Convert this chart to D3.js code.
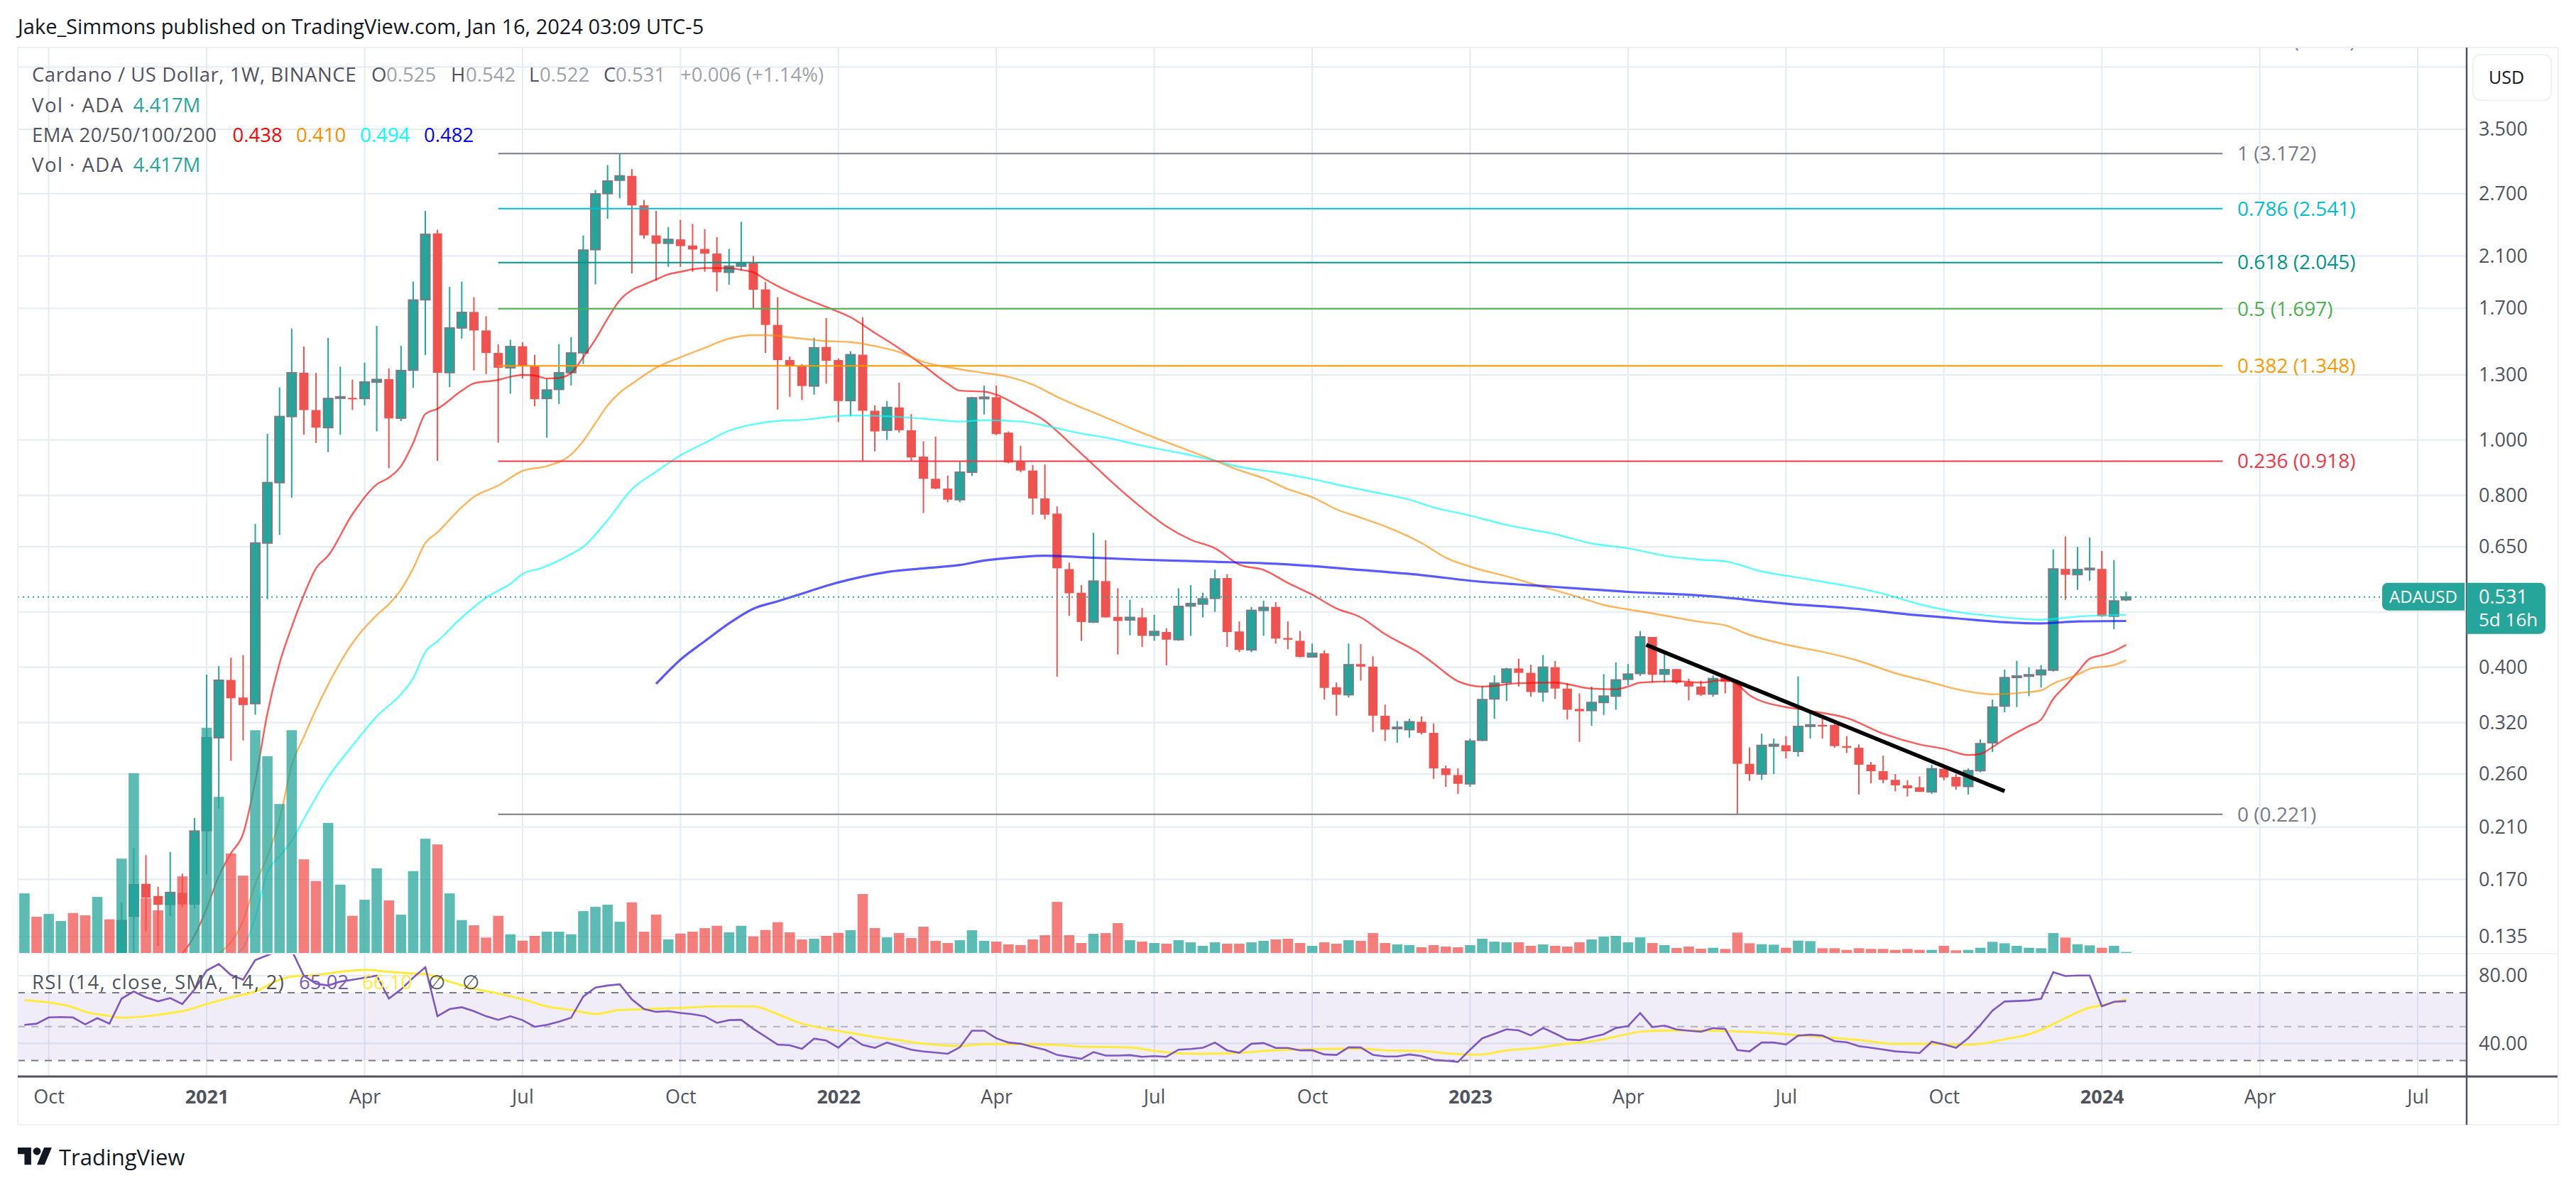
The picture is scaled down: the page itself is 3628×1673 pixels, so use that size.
<!DOCTYPE html>
<html><head><meta charset="utf-8">
<script src="https://cdn.jsdelivr.net/npm/d3@7/dist/d3.min.js"></script>
<style>html,body{margin:0;padding:0;background:#fff}svg{display:block}text{font-family:"Open Sans",Lato,sans-serif}</style>
</head><body><div id="chart"></div>
<script>
const opens=[.098,.104,.101,.106,.108,.104,.1,.108,.105,.1466,.167,.159,.1537,.161,.154,.207,.301,.38,.354,.3454,.66,.842,1.099,1.311,1.128,1.051,1.188,1.185,1.182,1.263,1.278,1.092,1.325,1.76,2.3,1.312,1.571,1.675,1.555,1.42,1.338,1.459,1.349,1.182,1.226,1.312,1.421,2.154,2.7,2.85,2.9,2.575,2.281,2.21,2.245,2.19,2.16,2.12,1.966,2.015,2.04,1.835,1.59,1.38,1.349,1.243,1.455,1.38,1.172,1.41,1.125,1.04,1.14,1.04,.935,.855,.822,.786,.878,1.185,1.188,1.03,.916,.884,.79,.743,.594,.54,.48,.566,.49,.484,.489,.455,.461,.447,.512,.516,.528,.573,.462,.429,.503,.51,.45,.445,.417,.423,.369,.358,.405,.401,.329,.313,.311,.321,.307,.266,.259,.25,.298,.352,.376,.398,.391,.362,.4,.367,.338,.336,.347,.356,.381,.39,.452,.389,.397,.376,.37,.359,.385,.377,.271,.26,.291,.292,.285,.316,.317,.317,.291,.289,.27,.263,.254,.2485,.2465,.242,.2656,.257,.2473,.2636,.295,.342,.384,.386,.388,.3953,.5945,.581,.594,.5945,.4915,.525];
const closes=[.104,.101,.106,.108,.104,.1,.108,.105,.144,.1664,.158,.1535,.1613,.1537,.2066,.301,.3795,.353,.3434,.66,.842,1.099,1.311,1.128,1.051,1.182,1.19,1.178,1.263,1.276,1.091,1.323,1.758,2.291,1.311,1.571,1.672,1.555,1.42,1.338,1.457,1.349,1.179,1.223,1.311,1.42,2.15,2.697,2.84,2.9,2.575,2.281,2.206,2.245,2.185,2.155,2.12,1.966,2.015,2.04,1.832,1.59,1.38,1.349,1.243,1.45,1.376,1.17,1.41,1.125,1.035,1.14,1.04,.932,.855,.822,.786,.878,1.185,1.188,1.024,.913,.884,.79,.74,.596,.539,.48,.566,.489,.482,.489,.454,.462,.447,.511,.517,.527,.571,.461,.429,.503,.509,.449,.447,.417,.423,.368,.358,.404,.401,.329,.311,.314,.321,.307,.266,.259,.25,.297,.351,.375,.397,.391,.362,.4,.367,.337,.335,.347,.356,.38,.389,.452,.388,.396,.376,.37,.358,.382,.377,.271,.26,.2918,.293,.285,.315,.317,.315,.291,.289,.27,.263,.254,.2485,.2455,.242,.2656,.2565,.2473,.2636,.2939,.3406,.3835,.386,.388,.3953,.5945,.5806,.593,.596,.4915,.5225,.531];
const highs=[.106,.108,.108,.112,.112,.108,.11,.112,.155,.193,.1875,.165,.19,.174,.2178,.3884,.4017,.4157,.42,.713,1.025,1.236,1.567,1.458,1.31,1.509,1.344,1.275,1.365,1.584,1.334,1.462,1.894,2.518,2.334,1.853,1.894,1.778,1.647,1.47,1.498,1.483,1.409,1.281,1.472,1.514,2.281,2.74,3.03,3.17,2.98,2.63,2.518,2.36,2.43,2.39,2.34,2.265,2.16,2.41,2.1,1.89,1.778,1.4,1.358,1.51,1.635,1.39,1.43,1.64,1.15,1.17,1.26,1.11,.995,1.013,.866,.918,1.19,1.245,1.245,1.035,.977,.904,.906,.765,.61,.557,.688,.667,.55,.525,.508,.494,.468,.55,.557,.54,.593,.582,.481,.51,.523,.52,.481,.463,.44,.428,.376,.44,.439,.418,.344,.322,.325,.328,.319,.269,.266,.3,.371,.387,.399,.414,.404,.42,.41,.375,.36,.37,.389,.408,.405,.463,.452,.422,.397,.382,.379,.387,.388,.38,.2895,.306,.3,.303,.3855,.334,.327,.32,.303,.293,.273,.28,.26,.2535,.2575,.27,.27,.26,.266,.299,.351,.3963,.4105,.4,.4035,.6435,.6777,.6495,.675,.6395,.616,.542];
const lows=[.095,.098,.098,.102,.102,.098,.098,.102,.1,.12,.138,.13,.1466,.152,.1513,.1735,.2262,.2743,.2977,.3304,.5264,.682,.792,1.021,.988,.952,1.021,1.128,1.15,1.035,.892,1.079,1.234,1.409,.919,1.238,1.505,1.324,1.304,.989,1.205,1.281,1.146,1.009,1.156,1.246,1.358,1.872,2.44,2.65,1.957,2.25,1.9,2.01,2.01,1.97,1.97,1.82,1.87,1.98,1.7,1.42,1.13,1.19,1.175,1.2,1.255,1.075,1.1,.918,.955,1,1.03,.918,.745,.82,.778,.778,.865,1.108,1.02,.91,.878,.74,.726,.385,.492,.445,.478,.489,.421,.455,.434,.445,.403,.445,.454,.489,.5,.434,.425,.425,.454,.44,.43,.416,.416,.351,.329,.354,.379,.308,.297,.295,.301,.305,.255,.247,.24,.247,.297,.325,.349,.37,.355,.348,.352,.324,.296,.316,.33,.337,.372,.386,.376,.376,.374,.35,.356,.355,.36,.221,.253,.254,.26,.277,.279,.3,.3,.289,.283,.2395,.2505,.2505,.2425,.2375,.242,.24,.2535,.244,.2395,.262,.2842,.3335,.3406,.356,.3685,.393,.525,.5465,.567,.49,.4664,.522];
const volumes=[252,153,165,135,169,159,237,142,399,760,232,180,220,324,474,952,660,421,327,942,832,630,942,396,304,550,289,157,225,358,222,162,346,483,459,252,139,117,65,157,79,52,72,90,90,79,177,195,204,132,214,90,162,57,82,90,105,115,87,115,70,97,130,87,57,60,72,85,96,249,105,66,84,63,111,51,42,54,96,51,48,36,33,57,75,216,75,42,81,84,126,54,48,42,39,54,45,30,45,39,39,45,51,57,60,42,30,45,39,54,51,84,42,36,33,24,33,27,24,33,60,48,45,45,30,36,30,27,45,57,69,72,45,66,42,33,21,27,18,22,17,86,41,37,35,22,52,50,20,20,13,20,17,17,13,17,13,13,30,11,13,22,47,41,30,22,20,84,65,37,32,22,30,4.4];

const ema20Idx=[13,14,15,16,17,18,19,20,21,22,23,24,25,27,29,30,31,32,33,34,36,37,39,40,41,42,43,44,45,46,47,48,49,50,51,52,53,54,55,56,58,59,60,61,62,64,66,68,70,72,74,76,77,79,80,82,84,86,88,90,92,94,96,98,100,102,104,106,108,110,112,115,116,118,119,120,123,126,129,131,132,133,136,138,140,141,142,145,146,148,150,153,156,158,160,161,162,163,165,166,167,168,169,170,171,172,173];
const ema20Val=[.126,.1355,.1513,.1723,.1889,.2044,.2522,.332,.4066,.4706,.535,.596,.627,.7416,.836,.859,.9,.988,1.11,1.134,1.22,1.256,1.274,1.29,1.3,1.297,1.281,1.284,1.31,1.396,1.5,1.63,1.756,1.83,1.87,1.91,1.95,1.97,1.99,2,2,1.985,1.966,1.91,1.86,1.778,1.71,1.64,1.54,1.447,1.35,1.255,1.22,1.215,1.2,1.142,1.08,.99,.904,.826,.76,.706,.669,.646,.605,.592,.562,.536,.507,.489,.457,.421,.406,.378,.372,.37,.375,.376,.367,.366,.37,.376,.378,.376,.38,.3732,.3574,.3406,.338,.3327,.326,.306,.293,.2878,.2807,.282,.29,.2992,.3156,.324,.352,.371,.392,.414,.42,.4269,.438];
const ema50Idx=[16,18,19,20,21,22,23,25,27,29,30,31,32,33,34,36,37,39,41,43,45,46,47,48,49,50,52,54,56,58,60,61,63,66,68,70,72,74,77,79,81,83,85,87,89,91,93,96,98,100,102,104,106,108,110,112,115,117,119,122,125,128,130,132,134,138,140,142,145,148,151,154,157,159,161,162,165,166,167,169,170,172,173];
const ema50Val=[.126,.144,.1667,.1866,.2163,.2689,.3023,.3729,.4407,.4936,.5157,.547,.596,.66,.689,.763,.795,.832,.883,.9,.943,.996,1.07,1.149,1.21,1.254,1.338,1.396,1.45,1.505,1.526,1.526,1.513,1.49,1.484,1.46,1.425,1.37,1.33,1.31,1.29,1.25,1.19,1.14,1.095,1.05,1.01,.955,.92,.885,.857,.82,.794,.756,.731,.706,.66,.622,.6,.577,.553,.53,.514,.505,.497,.48,.4735,.4558,.4382,.4256,.4103,.3905,.376,.3662,.36,.3587,.3618,.3643,.3744,.3881,.3975,.4036,.4114];
const ema100Idx=[17.4,18,19,20,21,22,23,25,27,29,31,32,33,34,36,38,40,41,42.5,45,46,48,50,52,54,56,58,60,62,64,66,68,71,74,77,79,82,84,87,89,92,95,98,100,103,106,109,111,114,116,119,122,126,129,132,135,138,140,143,146,150,153,156,159,162,166,167,169,171,173];
const ema100Val=[.126,.129,.146,.175,.1866,.1986,.217,.2565,.2916,.328,.3589,.3828,.4255,.4442,.4889,.5295,.56,.5827,.596,.631,.65,.724,.82,.88,.94,.988,1.038,1.065,1.08,1.084,1.096,1.104,1.1,1.09,1.077,1.083,1.077,1.06,1.026,1.01,.977,.95,.92,.897,.878,.854,.827,.811,.786,.762,.737,.71,.684,.659,.646,.627,.617,.613,.5885,.5742,.5552,.538,.5155,.5,.4915,.4843,.486,.4905,.493,.494];
const ema200Idx=[52,54,56,58,60,62,64,66,68,71,74,77,79,82,84,88,92,98,103,110,115,119,126,132,138,145,151,155,159,162,166,169,173];
const ema200Val=[.3741,.4124,.4442,.4773,.5064,.5219,.538,.5554,.57,.587,.596,.604,.615,.624,.627,.622,.617,.612,.607,.592,.58,.567,.553,.542,.534,.5169,.5058,.4952,.4872,.4811,.4773,.4811,.482];

const rsiValues=[51,51.7,55.4,55.6,55.4,51.3,55,51.7,66.5,70.7,67.2,64.9,66.8,63.3,71.9,83,86.9,80.4,77.6,89.2,92,95,95,80,75.3,74.2,76.5,77.6,78.8,80,66.5,71.9,78.8,85,56.1,60.3,61.4,59.1,56.1,54,56.1,53.8,49.9,51,52.9,55.2,67.7,73,74.2,74.9,66.1,60.3,58.7,59.1,58,57.3,56.1,52.2,53.8,54,48.7,44.1,39.4,39,36.9,42.9,41.8,37.6,43.8,39.2,37.5,40.6,38.5,36.4,35.3,34.7,34,37.8,47.6,47.6,43.1,40.6,39.9,38.1,36.4,33.3,32.2,31,35,32.9,32.9,33.2,32.2,32.6,32.2,36.4,36.8,37.5,40.6,36,34.6,39.9,40.3,37.4,37.4,36,36.1,33.6,33.3,37.8,37.7,33.3,32.4,32.4,33.6,32.6,30.4,29.9,29.2,36.4,43.1,45.7,48.4,47.8,44.8,49.2,45.9,42.4,42,43.8,45.5,49.2,50.3,58,49.7,50.6,48.3,47.6,47,49.1,48.6,36.2,35.4,40.6,40.6,39.5,44.7,45.2,44.7,41.4,40.8,38.5,37.5,36.5,35.4,34.9,34.4,41.1,39.5,37.5,43.2,50.9,59.4,64.8,65.1,65.4,66.4,82.1,79.8,80.1,80.1,62,64.6,65];
const rsiSmaIdx=[0,2,4,5,7,8,10,12,13,15,17,19,21,22,24,26,28,30,32,33,35,37,39,41,43,45,47,49,51,54,57,60,62,64,66,68,70,72,74,76,77,79,82,85,87,91,93,95,97,100,103,106,110,112,115,117,119,120,122,124,127,129,131,133,135,138,142,145,148,151,154,157,160,161,163,165,166,168,170,171,173];
const rsiSmaVal=[65.6,64.2,61.4,58.7,56.3,55.2,56.1,58,59.1,63.3,67.2,70.7,77.6,79.5,80.4,82.3,83.4,82.3,81.3,80.9,76.5,72.3,69.5,66.1,61.9,59.8,57.5,59.8,60.3,61,61.9,61.9,57.3,51.7,48.7,46.3,43.8,42,39.9,38.8,38.6,39.6,39.6,39.2,38.2,37.7,35.7,34.3,34,34.6,36.1,36.7,37,36,35.7,34.3,33.5,33.6,36,37.1,39.9,41.3,44.1,47,47.7,47.7,46.8,45.5,43.9,42.1,39.8,39.8,39.3,39.8,42.6,45.5,48.1,55,61.2,62.5,66.1];

const trendIdx=[133.5,163], trendVal=[.4377,.2427];
const fibLevels=[1.618,1,.786,.618,.5,.382,.236,0];
const fibPrices=[4.996,3.172,2.541,2.045,1.697,1.348,.918,.221];
const fibColors=["#5b6cff","#787b86","#00bcd4","#009688","#4caf50","#ff9800","#f23645","#787b86"];
const fibStartIdx=39, fibEndIdx=181;
const priceGrid=[4.5,3.5,2.7,2.1,1.7,1.3,1,.8,.65,.5,.4,.32,.26,.21,.17,.135];
const priceLabels=[3.5,2.7,2.1,1.7,1.3,1,.8,.65,.4,.32,.26,.21,.17,.135];
const rsiTicks=[80,40];
const tickIdx=[2,15,28,41,54,67,80,93,106,119,132,145,158,171,184,197];
const tickLabels=["Oct","2021","Apr","Jul","Oct","2022","Apr","Jul","Oct","2023","Apr","Jul","Oct","2024","Apr","Jul"];
const lastClose=.531;

const W=3628,H=1673,L=25,R=3603,T=67,B=1584,AX=3474,PB=1343,TB=1516;
const UP="#26a69a",DN="#ef5350",GRID="#e4ecf3",TXT="#50535e";
const x=d3.scaleLinear().domain([0,173]).range([34.4,2994.4]);
const y=d3.scaleLog().domain([3.5,.135]).range([182,1319]);
const yVol=d3.scaleLinear().domain([0,1000]).range([1342,1009]);
const yRsi=d3.scaleLinear().domain([80,40]).range([1374,1469.6]);
const svg=d3.select("#chart").append("svg").attr("width",W).attr("height",H);
const defs=svg.append("defs");
defs.append("clipPath").attr("id","pp").append("rect").attr("x",L).attr("y",T).attr("width",AX-L).attr("height",PB-T);
defs.append("clipPath").attr("id","rp").append("rect").attr("x",L).attr("y",PB).attr("width",AX-L).attr("height",TB-PB);
svg.append("rect").attr("width",W).attr("height",H).attr("fill","#fff");

svg.append("text").attr("x",25).attr("y",48).attr("font-size",29).attr("fill","#131722").text("Jake_Simmons published on TradingView.com, Jan 16, 2024 03:09 UTC-5");

const g=svg.append("g");
g.selectAll(".hg").data(priceGrid).join("line").attr("x1",L).attr("x2",AX).attr("y1",d=>y(d)).attr("y2",d=>y(d)).attr("stroke",GRID).attr("stroke-width",2);
g.selectAll(".rg").data(rsiTicks).join("line").attr("x1",L).attr("x2",AX).attr("y1",d=>yRsi(d)).attr("y2",d=>yRsi(d)).attr("stroke",GRID).attr("stroke-width",2);
g.selectAll(".vg").data(tickIdx).join("line").attr("x1",d=>x(d)).attr("x2",d=>x(d)).attr("y1",T).attr("y2",TB).attr("stroke",GRID).attr("stroke-width",2);

const rsiPane=svg.append("g").attr("clip-path","url(#rp)");
rsiPane.append("rect").attr("x",L).attr("width",AX-L).attr("y",yRsi(70)).attr("height",yRsi(30)-yRsi(70)).attr("fill","#7e57c2").attr("fill-opacity",.115);
rsiPane.selectAll(".b").data([70,50,30]).join("line").attr("x1",L).attr("x2",AX).attr("y1",d=>yRsi(d)).attr("y2",d=>yRsi(d)).attr("stroke","#787b86").attr("stroke-opacity",d=>d==50?.5:1).attr("stroke-width",2).attr("stroke-dasharray","10 9");
rsiPane.append("path").datum(rsiSmaIdx).attr("fill","none").attr("stroke","#ffeb3b").attr("stroke-width",3).attr("d",d3.line().curve(d3.curveMonotoneX).x(d=>x(d)).y((d,i)=>yRsi(rsiSmaVal[i])));
rsiPane.append("path").datum(rsiValues).attr("fill","none").attr("stroke","#7e57c2").attr("stroke-width",2.6).attr("d",d3.line().x((d,i)=>x(i)).y(d=>yRsi(d)));

const pane=svg.append("g").attr("clip-path","url(#pp)");
const up=i=>closes[i]>=opens[i];
const idx=d3.range(opens.length);
pane.selectAll(".w").data(idx).join("line").attr("x1",x).attr("x2",x).attr("y1",i=>y(highs[i])).attr("y2",i=>y(lows[i])).attr("stroke",i=>up(i)?UP:DN).attr("stroke-width",2);
pane.selectAll(".c").data(idx).join("rect").attr("x",i=>x(i)-6.5).attr("width",13)
 .attr("y",i=>Math.min(y(opens[i]),y(closes[i]))).attr("height",i=>Math.max(2,Math.abs(y(opens[i])-y(closes[i]))))
 .attr("fill",i=>up(i)?UP:DN).attr("stroke",i=>up(i)?"#787b86":"none").attr("stroke-width",2);

svg.append("line").attr("x1",L).attr("x2",AX).attr("y1",y(lastClose)).attr("y2",y(lastClose)).attr("stroke",UP).attr("stroke-width",2).attr("stroke-dasharray","2 5");

const ln=(ix,vals)=>d3.line().curve(d3.curveMonotoneX).x(d=>x(d)).y((d,i)=>y(vals[i]))(ix);
[[ema20Idx,ema20Val,"#ff0000",2.4],[ema50Idx,ema50Val,"#ff8c00",2.4],[ema100Idx,ema100Val,"#00ffff",2.4],[ema200Idx,ema200Val,"#0000ff",3.2]].forEach(s=>{
 pane.append("path").attr("d",ln(s[0],s[1])).attr("fill","none").attr("stroke",s[2]).attr("stroke-opacity",.65).attr("stroke-width",s[3]);
});

pane.selectAll(".f").data(fibPrices).join("line").attr("x1",x(fibStartIdx)).attr("x2",x(fibEndIdx)-1).attr("y1",d=>y(d)).attr("y2",d=>y(d)).attr("stroke",(d,i)=>fibColors[i]).attr("stroke-width",2);
pane.selectAll(".ft").data(fibPrices).join("text").attr("x",3151).attr("y",d=>y(d)).attr("dy",".35em").attr("font-size",28).attr("fill",(d,i)=>fibColors[i]).text((d,i)=>`${fibLevels[i]} (${d.toFixed(3)})`);

pane.append("path").attr("d",d3.line().x(d=>x(d)).y((d,i)=>y(trendVal[i]))(trendIdx)).attr("fill","none").attr("stroke","#000").attr("stroke-width",5.5);

pane.selectAll(".v").data(idx).join("rect").attr("x",i=>x(i)-7.3).attr("width",14.6).attr("y",i=>yVol(volumes[i])).attr("height",i=>yVol(0)-yVol(volumes[i])).attr("fill",i=>up(i)?UP:DN).attr("fill-opacity",.75);

const F="#eef1f5";
svg.append("rect").attr("x",L).attr("y",T).attr("width",R-L).attr("height",B-T).attr("fill","none").attr("stroke",F).attr("stroke-width",2);
svg.append("line").attr("x1",L).attr("x2",R).attr("y1",PB).attr("y2",PB).attr("stroke",F).attr("stroke-width",2);
svg.append("line").attr("x1",L).attr("x2",R-1).attr("y1",TB).attr("y2",TB).attr("stroke",TXT).attr("stroke-width",3);
svg.append("line").attr("x1",AX).attr("x2",AX).attr("y1",T).attr("y2",B).attr("stroke",TXT).attr("stroke-width",2.5);

const pa=svg.append("g").attr("transform",`translate(${AX+17},0)`).call(d3.axisRight(y).tickValues(priceLabels).tickSize(0).tickPadding(0).tickFormat(d3.format(".3f")));
const ra=svg.append("g").attr("transform",`translate(${AX+17},0)`).call(d3.axisRight(yRsi).tickValues(rsiTicks).tickSize(0).tickPadding(0).tickFormat(d3.format(".2f")));
const ta=svg.append("g").attr("transform",`translate(0,1535)`).call(d3.axisBottom(x).tickValues(tickIdx).tickSize(0).tickPadding(0).tickFormat((d,i)=>tickLabels[i]));
[pa,ra,ta].forEach(a=>{a.select(".domain").remove();a.selectAll("text").attr("font-size",27).attr("fill",TXT).style("font-family",'"Open Sans"');});
ta.selectAll("text").attr("font-weight",(d,i)=>/^\d/.test(tickLabels[i])?700:400);

svg.append("rect").attr("x",3483).attr("y",77).attr("width",110).attr("height",64).attr("rx",10).attr("fill","#fff").attr("stroke",F).attr("stroke-width",2);
svg.append("text").attr("x",3530).attr("y",109).attr("dy",".35em").attr("text-anchor","middle").attr("font-size",25).attr("fill","#131722").text("USD");

const tagTop=y(lastClose)-20;
svg.append("path").attr("d",`M3471 ${tagTop}H3363a8 8 0 0 0 -8 8V${tagTop+31}a8 8 0 0 0 8 8H3471Z`).attr("fill",UP);
svg.append("path").attr("d",`M3474 ${tagTop}H3577a8 8 0 0 1 8 8V${tagTop+64}a8 8 0 0 1 -8 8H3474Z`).attr("fill",UP);
svg.append("text").attr("x",3413).attr("y",y(lastClose)).attr("dy",".35em").attr("text-anchor","middle").attr("font-size",24).attr("fill","#fff").text("ADAUSD");
svg.append("text").attr("x",3491).attr("y",y(lastClose)).attr("dy",".35em").attr("font-size",27).attr("fill","#fff").text("0.531");
svg.append("text").attr("x",3491).attr("y",y(lastClose)+32).attr("dy",".35em").attr("font-size",26).attr("fill","#fff").text("5d 16h");

const lt=(xp,yp,s,fill,ls)=>svg.append("text").attr("x",xp).attr("y",yp).attr("dy",".35em").attr("font-size",27.5).attr("letter-spacing",ls||0).attr("fill",fill).text(s);
const GV="#9da1aa";
lt(45,105.6,"Cardano / US Dollar, 1W, BINANCE",TXT,.55);
lt(523,105.6,"O",TXT);lt(544,105.6,"0.525",GV);
lt(635,105.6,"H",TXT);lt(656,105.6,"0.542",GV);
lt(745,105.6,"L",TXT);lt(760,105.6,"0.522",GV);
lt(850,105.6,"C",TXT);lt(867,105.6,"0.531",GV);
lt(958,105.6,"+0.006 (+1.14%)",GV);
lt(45,148,"Vol · ADA",TXT,1.5);lt(187.5,148,"4.417M",UP);
lt(45,190,"EMA 20/50/100/200",TXT,.5);
lt(327.5,190,"0.438","#ff0000");lt(417,190,"0.410","#ff8c00");lt(507,190,"0.494","#00ffff");lt(597,190,"0.482","#0000ff");
lt(45,232,"Vol · ADA",TXT,1.5);lt(187.5,232,"4.417M",UP);
lt(45,1383.5,"RSI (14, close, SMA, 14, 2)",TXT,1.3);
lt(421,1383.5,"65.02","#7e57c2");lt(510,1383.5,"66.10","#ffeb3b");lt(603,1383.5,"∅",TXT);lt(651,1383.5,"∅",TXT);

const logo=svg.append("g").attr("transform","translate(25,1610.5) scale(1.35)").attr("fill","#131722");
logo.append("path").attr("d","M14 22H7V11H0V4h14v18zM28 22h-8l7.5-18h8L28 22z");
logo.append("circle").attr("cx",20).attr("cy",8).attr("r",4);
svg.append("text").attr("x",83).attr("y",1630).attr("dy",".35em").attr("font-size",31).attr("fill","#131722").text("TradingView");
</script></body></html>
